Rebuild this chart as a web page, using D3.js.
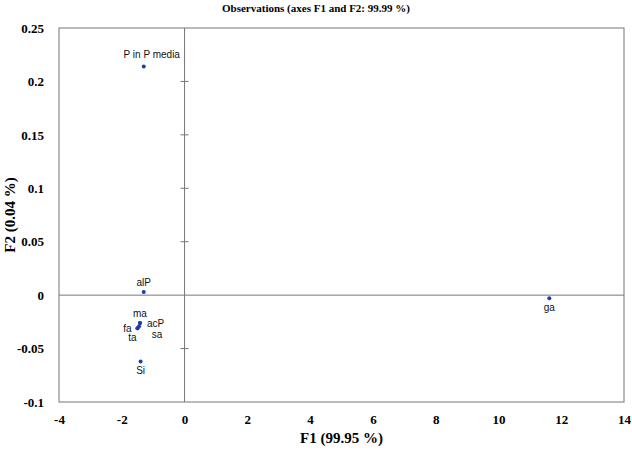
<!DOCTYPE html>
<html><head><meta charset="utf-8">
<script src="https://cdn.jsdelivr.net/npm/d3@7"></script>
<style>body{margin:0;background:#fff}</style>
</head><body>
<script>
const labels = ["P in P media","alP","ma","fa","acP","ta","sa","Si","ga"];
const f1 = [-1.30,-1.30,-1.42,-1.50,-1.42,-1.50,-1.45,-1.40,11.62];
const f2 = [0.214,0.003,-0.026,-0.031,-0.026,-0.031,-0.029,-0.062,-0.003];
const labelPos = ["aboveright","above","above","left","right","belowleft","belowright","below","below"];
const xTicks = [-4,-2,0,2,4,6,8,10,12,14];
const yTicks = [-0.1,-0.05,0,0.05,0.1,0.15,0.2,0.25];

const W=632,H=450;
const m={l:59,r:8,t:28,b:48};
const svg=d3.select("body").append("svg").attr("width",W).attr("height",H);
const x=d3.scaleLinear().domain([-4,14]).range([m.l,W-m.r]);
const y=d3.scaleLinear().domain([-0.1,0.25]).range([H-m.b,m.t]);
const gray="#777";
const fmt=d=>String(+d.toFixed(2));

svg.append("text").attr("x",316).attr("y",12).attr("text-anchor","middle")
  .attr("font-family","Liberation Serif").attr("font-weight","bold").attr("font-size",11)
  .text("Observations (axes F1 and F2: 99.99 %)");

svg.append("rect").attr("x",x(-4)).attr("y",y(0.25)).attr("width",x(14)-x(-4)).attr("height",y(-0.1)-y(0.25))
  .attr("fill","none").attr("stroke",gray).attr("stroke-width",1);

const yAx=d3.axisLeft(y).tickValues(yTicks).tickSize(0).tickFormat(fmt);
const gy=svg.append("g").attr("transform",`translate(${x(-4)-12},0)`).call(yAx);
gy.select(".domain").remove();
gy.selectAll("text").attr("font-family","Liberation Serif").attr("font-weight","bold").attr("font-size",13).attr("fill","#000");

const xAx=d3.axisBottom(x).tickValues(xTicks).tickSize(0).tickFormat(fmt);
const gx=svg.append("g").attr("transform",`translate(0,${y(-0.1)+10})`).call(xAx);
gx.select(".domain").remove();
gx.selectAll("text").attr("font-family","Liberation Serif").attr("font-weight","bold").attr("font-size",13).attr("fill","#000");

svg.append("line").attr("x1",x(0)).attr("x2",x(0)).attr("y1",y(0.25)).attr("y2",y(-0.1)).attr("stroke",gray);
svg.append("line").attr("x1",x(-4)).attr("x2",x(14)).attr("y1",y(0)).attr("y2",y(0)).attr("stroke",gray);
svg.append("g").selectAll("line").data(yTicks.filter(d=>d!==0&&d!==0.25&&d!==-0.1)).join("line")
  .attr("x1",x(0)-4).attr("x2",x(0)+4).attr("y1",d=>y(d)).attr("y2",d=>y(d)).attr("stroke",gray);

svg.append("text").attr("x",(x(-4)+x(14))/2).attr("y",443).attr("text-anchor","middle")
  .attr("font-family","Liberation Serif").attr("font-weight","bold").attr("font-size",15).text("F1 (99.95 %)");
svg.append("text").attr("transform",`translate(15,${(y(0.25)+y(-0.1))/2}) rotate(-90)`).attr("text-anchor","middle")
  .attr("font-family","Liberation Serif").attr("font-weight","bold").attr("font-size",15).text("F2 (0.04 %)");

const pts=labels.map((l,i)=>({l,x:f1[i],y:f2[i],p:labelPos[i]}));
svg.append("g").selectAll("circle").data(pts).join("circle")
  .attr("cx",d=>x(d.x)).attr("cy",d=>y(d.y)).attr("r",2).attr("fill","#1a3cb8");
const off={above:[0,-6,"middle"],aboveright:[8,-8,"middle"],below:[0,13,"middle"],left:[-6,4,"end"],right:[7,4,"start"],belowleft:[-5,13,"middle"],belowright:[18,12,"middle"]};
svg.append("g").selectAll("text").data(pts).join("text")
  .attr("x",d=>x(d.x)+off[d.p][0]).attr("y",d=>y(d.y)+off[d.p][1]).attr("text-anchor",d=>off[d.p][2])
  .attr("font-family","Liberation Sans").attr("font-size",10).attr("fill","#111").text(d=>d.l);
</script>
</body></html>
